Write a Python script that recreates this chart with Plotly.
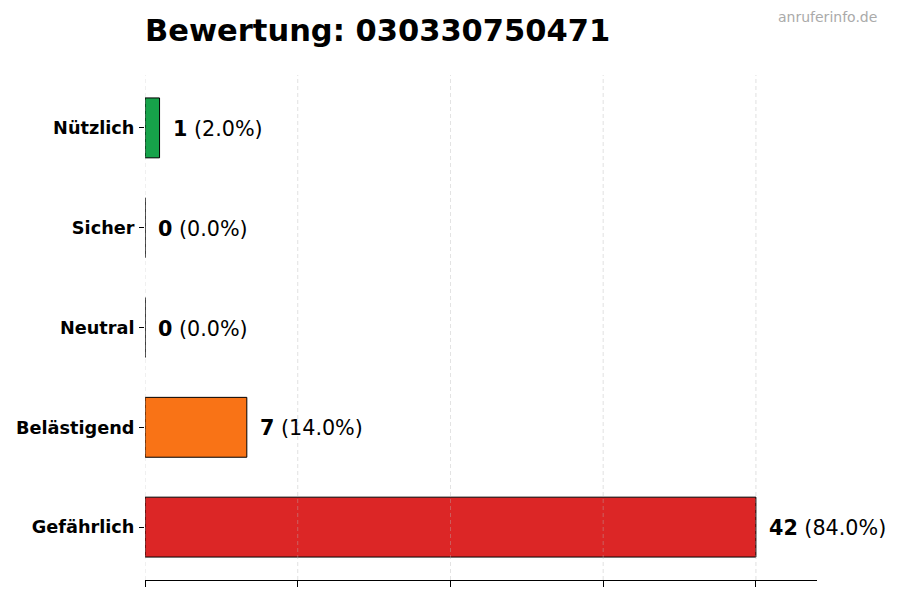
import plotly.graph_objects as go

# Daten
kategorien = ["Gefährlich", "Belästigend", "Neutral", "Sicher", "Nützlich"]
anzahl = [42, 7, 0, 0, 1]
farben = ["#dc2626", "#f97316", "#9ca3af", "#3b82f6", "#16a34a"]
x_ticks = [0, 10.5, 21, 31.5, 42]
titel = "Bewertung: 030330750471"

gesamt = sum(anzahl)
prozent = [a / gesamt * 100 for a in anzahl]

fig = go.Figure(go.Bar(
    x=anzahl,
    y=kategorien,
    orientation="h",
    width=0.6,
    marker=dict(color=farben, line=dict(color="black", width=1)),
    hoverinfo="skip",
))

# Gitterlinien ueber den Balken (wie im Original)
for t in x_ticks:
    fig.add_vline(x=t, layer="above", opacity=0.5,
                  line=dict(color="#b8b8b8", width=0.8, dash="4px,3px"))

# Beschriftung neben den Balken
for k, a, p in zip(kategorien, anzahl, prozent):
    fig.add_annotation(
        x=a, y=k, text=f"<b>{a}</b> ({p:.1f}%)",
        xanchor="left", xshift=11, yshift=-1, showarrow=False,
        font=dict(size=20.7, color="black", family="DejaVu Sans"),
    )

# Wasserzeichen
fig.add_annotation(
    xref="x domain", yref="paper", x=(879 - 145) / 672, y=1 + (75 - 17) / 505,
    xanchor="right", yanchor="middle", text="anruferinfo.de", showarrow=False,
    font=dict(size=14, color="#aaaaaa", family="DejaVu Sans"),
)

# Seite hat 8px Rand im Body -> Figur etwas kleiner
fig.update_layout(
    width=892, height=592,
    margin=dict(l=137, r=83, t=67, b=20),
    plot_bgcolor="white", paper_bgcolor="white",
    font=dict(family="DejaVu Sans", color="black"),
    title=dict(text=f"<b>{titel}</b>", x=137 / 892, xanchor="left",
               y=1 - 22 / 592, yanchor="middle", font=dict(size=30.5, color="black")),
    showlegend=False,
)

fig.update_xaxes(
    range=[0, 46.2], tickvals=x_ticks, showticklabels=False,
    ticks="outside", ticklen=6, tickcolor="black",
    showline=True, linecolor="black", linewidth=1.2,
    showgrid=False, zeroline=False, automargin=False,
)
fig.update_yaxes(
    range=[-0.53, 4.53], categoryorder="array", categoryarray=kategorien,
    tickvals=kategorien, ticktext=[f"<b>{k}</b>" for k in kategorien],
    ticks="outside", ticklen=5, tickcolor="black", showline=False,
    ticklabelstandoff=1, automargin=False,
    showgrid=False, tickfont=dict(size=17.7, family="DejaVu Sans"),
)

fig.write_html("out.html")
